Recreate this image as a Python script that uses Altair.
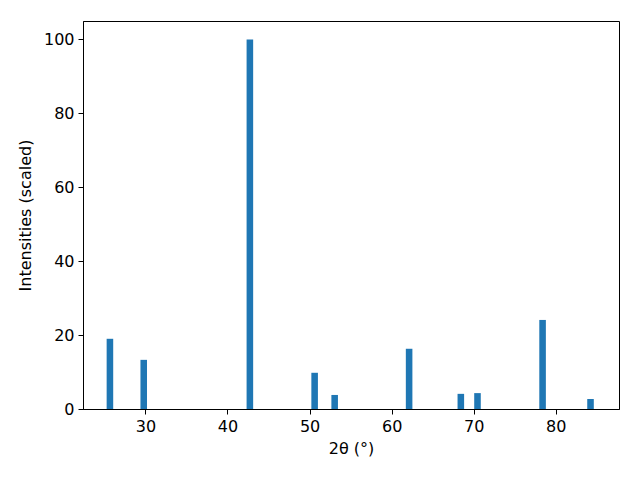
import altair as alt
import pandas as pd

two_theta = [25.68, 29.80, 42.73, 50.62, 53.06, 62.13, 68.43, 70.46, 78.39, 84.23]
intensity = [19.0, 13.3, 100.0, 9.8, 3.8, 16.3, 4.1, 4.3, 24.1, 2.7]
bar_width = 0.8

df = pd.DataFrame({"two_theta": two_theta, "intensity": intensity})

font = "DejaVu Sans"

chart = alt.Chart(df).transform_calculate(
    x0=f"datum.two_theta - {bar_width / 2}",
    x1=f"datum.two_theta + {bar_width / 2}",
    base="0",
).mark_bar(color="#1f77b4").encode(
    x=alt.X("x0:Q",
            scale=alt.Scale(domain=[22.4, 87.7], nice=False, zero=False),
            axis=alt.Axis(title="2θ (°)", values=[30, 40, 50, 60, 70, 80],
                          grid=False, tickSize=5, tickWidth=1, tickColor="black",
                          domainColor="black", labelPadding=4, titlePadding=6,
                          labelFlush=False, labelOverlap=False)),
    x2="x1:Q",
    y=alt.Y("intensity:Q",
            scale=alt.Scale(domain=[0, 105], nice=False),
            axis=alt.Axis(title="Intensities (scaled)", values=[0, 20, 40, 60, 80, 100],
                          grid=False, tickSize=5, tickWidth=1, tickColor="black",
                          domainColor="black", labelPadding=4, titlePadding=10,
                          labelFlush=False, labelOverlap=False)),
    y2="base:Q",
).properties(
    width=536,
    height=388,
    autosize=alt.AutoSizeParams(type="none"),
    padding={"left": 75, "top": 13, "right": 13, "bottom": 63},
).configure_view(
    stroke="black", strokeWidth=1
).configure_axis(
    labelFont=font, titleFont=font, labelFontSize=16, titleFontSize=16,
    labelColor="black", titleColor="black", titleFontWeight="normal",
)

chart.save("out.html", embed_options={"renderer": "svg", "actions": False})
